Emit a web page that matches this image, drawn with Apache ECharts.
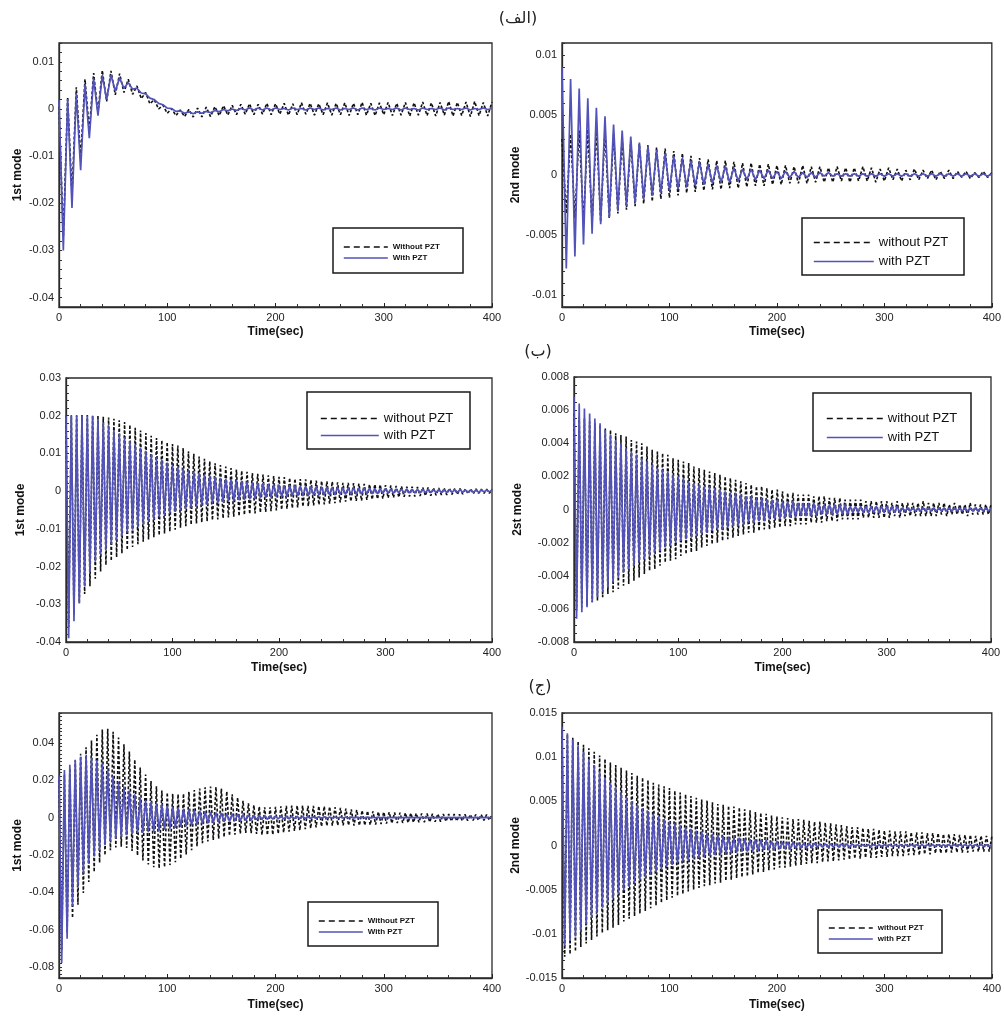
<!DOCTYPE html>
<html><head><meta charset="utf-8">
<script src="https://cdn.jsdelivr.net/npm/echarts@6/dist/echarts.min.js"></script>
<style>html,body{margin:0;padding:0;background:#fff}#c{width:1004px;height:1019px}</style>
</head><body><div id="c"></div>
<script>
// Oscillation extremes. Row (الف): maxima every 8 s (t = 0, 8 ... 400),
// minima halfway between. Rows (ب) and (ج): maxima every 5 s (t = 0, 5 ... 400), minima halfway.
const SPACING_ROW1 = 8;
const SPACING_ROW23 = 5;
const xTickValues = [0, 100, 200, 300, 400];
const panelTitles = ['(الف)', '(ب)', '(ج)'];

// ---- (الف) left : 1st mode ----
const p1L_withoutTop = [0.0005,0.0025,0.0046,0.0063,0.0076,0.0082,0.0081,0.0075,0.0063,0.0049,
0.0035,0.0020,0.0008,0.0001,-0.0002,-0.0001,0.0002,0.0004,0.0005,0.0007,
0.0008,0.0010,0.0011,0.0010,0.0012,0.0011,0.0012,0.0011,0.0013,0.0012,
0.0011,0.0013,0.0012,0.0013,0.0012,0.0014,0.0012,0.0013,0.0014,0.0012,
0.0014,0.0013,0.0015,0.0013,0.0014,0.0016,0.0014,0.0015,0.0016,0.0014,0.0015];
const p1L_withoutBot = [-0.027,-0.018,-0.0105,-0.0045,-0.0008,0.0016,0.0030,0.0035,0.0031,0.0022,
0.0011,0.0000,-0.0009,-0.0014,-0.0016,-0.0017,-0.0017,-0.0016,-0.0014,-0.0013,
-0.0012,-0.0011,-0.0012,-0.0011,-0.0012,-0.0011,-0.0013,-0.0012,-0.0011,-0.0013,
-0.0012,-0.0013,-0.0012,-0.0014,-0.0012,-0.0013,-0.0014,-0.0012,-0.0014,-0.0013,
-0.0015,-0.0013,-0.0014,-0.0015,-0.0013,-0.0015,-0.0014,-0.0016,-0.0014,-0.0015];
const p1L_withTop = [0.0019,0.0021,0.0034,0.0052,0.0065,0.0072,0.0072,0.0066,0.0056,0.0044,
0.0032,0.0020,0.0009,0.0001,-0.0004,-0.0006,-0.0006,-0.0005,-0.0003,-0.0001,
0.0000,0.0001,0.0002,0.0002,0.0002,0.0002,0.0001,0.0002,0.0001,0.0002,
0.0002,0.0001,0.0002,0.0001,0.0002,0.0002,0.0001,0.0002,0.0001,0.0002,
0.0002,0.0001,0.0002,0.0001,0.0002,0.0002,0.0001,0.0002,0.0001,0.0002,0.0001];
const p1L_withBot = [-0.0300,-0.0210,-0.0130,-0.0062,-0.0014,0.0020,0.0038,0.0044,0.0042,0.0034,
0.0023,0.0012,0.0002,-0.0005,-0.0009,-0.0010,-0.0009,-0.0008,-0.0006,-0.0004,
-0.0003,-0.0002,-0.0002,-0.0002,-0.0002,-0.0001,-0.0002,-0.0001,-0.0002,-0.0001,
-0.0002,-0.0001,-0.0002,-0.0001,-0.0002,-0.0001,-0.0002,-0.0001,-0.0001,-0.0002,
-0.0001,-0.0002,-0.0001,-0.0001,-0.0002,-0.0001,-0.0001,-0.0002,-0.0001,-0.0001];

// ---- (الف) right : 2nd mode ----
const p1R_withoutTop = [0.0030,0.0034,0.0037,0.0038,0.0038,0.0037,0.0034,0.0030,0.0028,0.0026,
0.0025,0.0023,0.0022,0.0020,0.0018,0.0016,0.0014,0.0013,0.0012,0.0012,
0.0011,0.0010,0.0010,0.0009,0.0009,0.0008,0.0008,0.0007,0.0008,0.0007,
0.0007,0.0006,0.0007,0.0006,0.0006,0.0007,0.0006,0.0005,0.0006,0.0005,
0.0004,0.0005,0.0004,0.0004,0.0003,0.0004,0.0003,0.0003,0.0002,0.0003,0.0002];
const p1R_withoutBot = [-0.0032,-0.0036,-0.0039,-0.0040,-0.0039,-0.0036,-0.0032,-0.0029,-0.0026,-0.0024,
-0.0022,-0.0020,-0.0019,-0.0017,-0.0015,-0.0014,-0.0013,-0.0012,-0.0012,-0.0011,
-0.0011,-0.0010,-0.0009,-0.0009,-0.0008,-0.0008,-0.0007,-0.0007,-0.0007,-0.0006,
-0.0006,-0.0006,-0.0005,-0.0006,-0.0005,-0.0005,-0.0006,-0.0005,-0.0004,-0.0005,
-0.0004,-0.0004,-0.0003,-0.0004,-0.0003,-0.0003,-0.0002,-0.0003,-0.0002,-0.0002];
const p1R_withTop = [0.0090,0.0080,0.0072,0.0064,0.0056,0.0049,0.0042,0.0037,0.0032,0.0027,
0.0024,0.0021,0.0018,0.0016,0.0014,0.0012,0.0011,0.0009,0.0008,0.0007,
0.0006,0.0005,0.0005,0.0004,0.0004,0.0003,0.0003,0.0003,0.0002,0.0002,
0.0002,0.0002,0.0001,0.0001,0.0001,0.0001,0.0001,0.0001,0.0001,0.0001,
0.0001,0.0001,0.0001,0.0001,0.0001,0.0001,0.0001,0.0001,0.0001,0.0001,0.0001];
const p1R_withBot = [-0.0078,-0.0068,-0.0058,-0.0049,-0.0041,-0.0035,-0.0030,-0.0026,-0.0023,-0.0020,
-0.0017,-0.0015,-0.0013,-0.0012,-0.0010,-0.0009,-0.0008,-0.0007,-0.0006,-0.0006,
-0.0005,-0.0004,-0.0004,-0.0003,-0.0003,-0.0003,-0.0002,-0.0002,-0.0002,-0.0002,
-0.0001,-0.0001,-0.0001,-0.0001,-0.0001,-0.0001,-0.0001,-0.0001,-0.0001,-0.0001,
-0.0001,-0.0001,-0.0001,-0.0001,-0.0001,-0.0001,-0.0001,-0.0001,-0.0001,-0.0001];

// ---- (ب) left : 1st mode ----
const p2L_withoutTop = [0.0200,0.0201,0.0201,0.0202,0.0202,0.0201,0.0200,0.0197,0.0195,0.0192,
0.0188,0.0183,0.0176,0.0168,0.0161,0.0154,0.0147,0.0141,0.0135,0.0130,
0.0125,0.0121,0.0114,0.0106,0.0099,0.0092,0.0086,0.0079,0.0074,0.0069,
0.0065,0.0061,0.0057,0.0054,0.0051,0.0048,0.0046,0.0044,0.0042,0.0040,
0.0038,0.0037,0.0035,0.0033,0.0032,0.0031,0.0030,0.0028,0.0027,0.0026,
0.0025,0.0023,0.0022,0.0022,0.0021,0.0020,0.0019,0.0018,0.0018,0.0017,
0.0016,0.0015,0.0014,0.0013,0.0012,0.0012,0.0011,0.0010,0.0010,0.0009,
0.0008,0.0008,0.0008,0.0007,0.0007,0.0006,0.0006,0.0006,0.0005,0.0005,0.0005];
const p2L_withoutBot = [-0.0360,-0.0328,-0.0297,-0.0273,-0.0252,-0.0232,-0.0213,-0.0196,-0.0185,-0.0175,
-0.0165,-0.0156,-0.0148,-0.0141,-0.0134,-0.0128,-0.0122,-0.0117,-0.0112,-0.0107,
-0.0102,-0.0097,-0.0093,-0.0089,-0.0086,-0.0083,-0.0080,-0.0077,-0.0075,-0.0072,
-0.0070,-0.0068,-0.0066,-0.0063,-0.0061,-0.0059,-0.0057,-0.0055,-0.0053,-0.0051,
-0.0049,-0.0047,-0.0045,-0.0043,-0.0041,-0.0040,-0.0038,-0.0036,-0.0035,-0.0033,
-0.0032,-0.0030,-0.0028,-0.0027,-0.0026,-0.0025,-0.0023,-0.0022,-0.0021,-0.0020,
-0.0018,-0.0017,-0.0016,-0.0015,-0.0014,-0.0014,-0.0013,-0.0012,-0.0012,-0.0011,
-0.0010,-0.0010,-0.0009,-0.0009,-0.0008,-0.0007,-0.0007,-0.0006,-0.0006,-0.0006];
const p2L_withTop = [0.0200,0.0200,0.0200,0.0200,0.0200,0.0199,0.0192,0.0182,0.0172,0.0162,
0.0152,0.0143,0.0133,0.0124,0.0115,0.0107,0.0098,0.0090,0.0083,0.0076,
0.0070,0.0065,0.0060,0.0055,0.0051,0.0047,0.0044,0.0041,0.0038,0.0035,
0.0033,0.0031,0.0029,0.0027,0.0025,0.0023,0.0022,0.0021,0.0019,0.0018,
0.0017,0.0016,0.0016,0.0015,0.0014,0.0013,0.0012,0.0012,0.0011,0.0011,
0.0010,0.0010,0.0009,0.0009,0.0009,0.0008,0.0008,0.0008,0.0007,0.0007,
0.0007,0.0006,0.0006,0.0006,0.0006,0.0005,0.0005,0.0005,0.0005,0.0004,
0.0004,0.0004,0.0004,0.0004,0.0004,0.0003,0.0003,0.0003,0.0003,0.0003,0.0003];
const p2L_withBot = [-0.0390,-0.0345,-0.0298,-0.0252,-0.0215,-0.0187,-0.0168,-0.0154,-0.0141,-0.0130,
-0.0119,-0.0110,-0.0102,-0.0095,-0.0088,-0.0081,-0.0075,-0.0069,-0.0064,-0.0059,
-0.0055,-0.0051,-0.0047,-0.0044,-0.0041,-0.0038,-0.0036,-0.0033,-0.0031,-0.0029,
-0.0027,-0.0026,-0.0024,-0.0023,-0.0022,-0.0020,-0.0019,-0.0018,-0.0017,-0.0016,
-0.0015,-0.0015,-0.0014,-0.0013,-0.0013,-0.0012,-0.0011,-0.0011,-0.0010,-0.0010,
-0.0010,-0.0009,-0.0009,-0.0008,-0.0008,-0.0008,-0.0007,-0.0007,-0.0007,-0.0006,
-0.0006,-0.0006,-0.0005,-0.0005,-0.0005,-0.0005,-0.0005,-0.0004,-0.0004,-0.0004,
-0.0004,-0.0004,-0.0003,-0.0003,-0.0003,-0.0003,-0.0003,-0.0003,-0.0002,-0.0002];

// ---- (ب) right : 2st mode ----
const p2R_withoutTop = [0.0058,0.0056,0.0055,0.0053,0.0052,0.0051,0.0049,0.0048,0.0046,0.0045,
0.0044,0.0042,0.0041,0.0040,0.0038,0.0036,0.0035,0.0034,0.0033,0.0031,
0.0030,0.0029,0.0028,0.0026,0.0025,0.0024,0.0023,0.0022,0.0021,0.0020,
0.0019,0.0018,0.0017,0.0016,0.0015,0.0014,0.0014,0.0013,0.0012,0.0012,
0.0011,0.0010,0.0010,0.0009,0.0009,0.0009,0.0008,0.0008,0.0008,0.0007,
0.0007,0.0007,0.0006,0.0006,0.0006,0.0006,0.0005,0.0005,0.0005,0.0005,
0.0005,0.0004,0.0005,0.0004,0.0004,0.0004,0.0004,0.0005,0.0004,0.0004,
0.0004,0.0004,0.0003,0.0004,0.0003,0.0003,0.0004,0.0003,0.0003,0.0003,0.0003];
const p2R_withoutBot = [-0.0061,-0.0059,-0.0058,-0.0056,-0.0055,-0.0053,-0.0051,-0.0050,-0.0048,-0.0046,
-0.0045,-0.0043,-0.0041,-0.0039,-0.0037,-0.0036,-0.0034,-0.0032,-0.0031,-0.0030,
-0.0028,-0.0027,-0.0026,-0.0025,-0.0023,-0.0022,-0.0021,-0.0020,-0.0019,-0.0018,
-0.0017,-0.0016,-0.0015,-0.0014,-0.0014,-0.0013,-0.0012,-0.0012,-0.0011,-0.0011,
-0.0010,-0.0010,-0.0009,-0.0009,-0.0009,-0.0008,-0.0008,-0.0008,-0.0007,-0.0007,
-0.0007,-0.0006,-0.0006,-0.0006,-0.0006,-0.0005,-0.0005,-0.0005,-0.0005,-0.0005,
-0.0005,-0.0004,-0.0005,-0.0004,-0.0004,-0.0004,-0.0004,-0.0004,-0.0004,-0.0004,
-0.0003,-0.0004,-0.0003,-0.0003,-0.0003,-0.0004,-0.0003,-0.0003,-0.0003,-0.0003];
const p2R_withTop = [0.0068,0.0064,0.0061,0.0058,0.0055,0.0052,0.0048,0.0045,0.0042,0.0040,
0.0037,0.0035,0.0033,0.0031,0.0029,0.0027,0.0025,0.0024,0.0023,0.0021,
0.0020,0.0019,0.0017,0.0016,0.0015,0.0014,0.0014,0.0013,0.0012,0.0011,
0.0010,0.0010,0.0009,0.0008,0.0008,0.0007,0.0007,0.0006,0.0006,0.0006,
0.0005,0.0005,0.0005,0.0004,0.0004,0.0004,0.0004,0.0003,0.0003,0.0003,
0.0003,0.0003,0.0003,0.0002,0.0002,0.0002,0.0002,0.0002,0.0002,0.0002,
0.0002,0.0002,0.0002,0.0001,0.0001,0.0001,0.0001,0.0001,0.0001,0.0001,
0.0001,0.0001,0.0001,0.0001,0.0001,0.0001,0.0001,0.0001,0.0001,0.0001,0.0001];
const p2R_withBot = [-0.0066,-0.0062,-0.0059,-0.0056,-0.0053,-0.0050,-0.0047,-0.0044,-0.0041,-0.0038,
-0.0036,-0.0034,-0.0032,-0.0030,-0.0028,-0.0026,-0.0025,-0.0023,-0.0022,-0.0020,
-0.0019,-0.0018,-0.0017,-0.0016,-0.0015,-0.0014,-0.0013,-0.0012,-0.0012,-0.0011,
-0.0010,-0.0010,-0.0009,-0.0008,-0.0008,-0.0007,-0.0007,-0.0006,-0.0006,-0.0006,
-0.0005,-0.0005,-0.0005,-0.0004,-0.0004,-0.0004,-0.0004,-0.0003,-0.0003,-0.0003,
-0.0003,-0.0003,-0.0003,-0.0002,-0.0002,-0.0002,-0.0002,-0.0002,-0.0002,-0.0002,
-0.0002,-0.0002,-0.0002,-0.0001,-0.0001,-0.0001,-0.0001,-0.0001,-0.0001,-0.0001,
-0.0001,-0.0001,-0.0001,-0.0001,-0.0001,-0.0001,-0.0001,-0.0001,-0.0001,-0.0001];

// ---- (ج) left : 1st mode ----
const p3L_withoutTop = [0.0200,0.0230,0.0265,0.0305,0.0342,0.0376,0.0412,0.0444,0.0472,0.0476,
0.0460,0.0428,0.0392,0.0354,0.0310,0.0268,0.0230,0.0196,0.0167,0.0145,
0.0134,0.0127,0.0125,0.0128,0.0138,0.0147,0.0155,0.0162,0.0166,0.0164,
0.0155,0.0140,0.0125,0.0107,0.0090,0.0076,0.0066,0.0059,0.0055,0.0055,
0.0057,0.0060,0.0062,0.0064,0.0064,0.0064,0.0063,0.0062,0.0061,0.0060,
0.0058,0.0055,0.0052,0.0048,0.0044,0.0041,0.0038,0.0035,0.0033,0.0031,
0.0030,0.0029,0.0027,0.0026,0.0025,0.0024,0.0023,0.0022,0.0021,0.0020,
0.0019,0.0019,0.0018,0.0018,0.0017,0.0017,0.0016,0.0016,0.0016,0.0015,0.0015];
const p3L_withoutBot = [-0.0710,-0.0620,-0.0538,-0.0468,-0.0405,-0.0345,-0.0292,-0.0242,-0.0202,-0.0176,
-0.0160,-0.0156,-0.0163,-0.0179,-0.0204,-0.0230,-0.0252,-0.0267,-0.0272,-0.0266,
-0.0255,-0.0240,-0.0221,-0.0198,-0.0175,-0.0155,-0.0138,-0.0129,-0.0121,-0.0113,
-0.0105,-0.0098,-0.0092,-0.0087,-0.0083,-0.0084,-0.0088,-0.0093,-0.0094,-0.0092,
-0.0087,-0.0081,-0.0076,-0.0072,-0.0068,-0.0063,-0.0058,-0.0053,-0.0048,-0.0045,
-0.0043,-0.0042,-0.0042,-0.0042,-0.0043,-0.0043,-0.0042,-0.0040,-0.0038,-0.0035,
-0.0033,-0.0031,-0.0030,-0.0029,-0.0028,-0.0027,-0.0026,-0.0025,-0.0024,-0.0023,
-0.0022,-0.0021,-0.0020,-0.0019,-0.0018,-0.0017,-0.0016,-0.0015,-0.0015,-0.0014];
const p3L_withTop = [0.0225,0.0255,0.0283,0.0310,0.0325,0.0330,0.0322,0.0308,0.0290,0.0258,
0.0222,0.0191,0.0165,0.0144,0.0124,0.0107,0.0094,0.0084,0.0076,0.0070,
0.0064,0.0058,0.0053,0.0048,0.0044,0.0040,0.0036,0.0033,0.0030,0.0027,
0.0024,0.0022,0.0020,0.0018,0.0016,0.0014,0.0013,0.0012,0.0011,0.0009,
0.0008,0.0008,0.0007,0.0006,0.0006,0.0005,0.0005,0.0004,0.0004,0.0004,
0.0003,0.0003,0.0003,0.0003,0.0002,0.0002,0.0002,0.0002,0.0002,0.0002,
0.0002,0.0001,0.0001,0.0001,0.0001,0.0001,0.0001,0.0001,0.0001,0.0001,
0.0001,0.0001,0.0001,0.0001,0.0001,0.0001,0.0001,0.0001,0.0001,0.0001,0.0001];
const p3L_withBot = [-0.0780,-0.0650,-0.0475,-0.0370,-0.0300,-0.0248,-0.0208,-0.0176,-0.0148,-0.0128,
-0.0114,-0.0103,-0.0095,-0.0088,-0.0084,-0.0081,-0.0079,-0.0076,-0.0071,-0.0065,
-0.0060,-0.0055,-0.0050,-0.0046,-0.0042,-0.0038,-0.0034,-0.0031,-0.0028,-0.0025,
-0.0023,-0.0021,-0.0019,-0.0017,-0.0016,-0.0014,-0.0013,-0.0011,-0.0010,-0.0009,
-0.0008,-0.0008,-0.0007,-0.0006,-0.0006,-0.0005,-0.0005,-0.0004,-0.0004,-0.0004,
-0.0003,-0.0003,-0.0003,-0.0003,-0.0002,-0.0002,-0.0002,-0.0002,-0.0002,-0.0002,
-0.0002,-0.0001,-0.0001,-0.0001,-0.0001,-0.0001,-0.0001,-0.0001,-0.0001,-0.0001,
-0.0001,-0.0001,-0.0001,-0.0001,-0.0001,-0.0001,-0.0001,-0.0001,-0.0001,-0.0001];

// ---- (ج) right : 2nd mode ----
const p3R_withoutTop = [0.0130,0.0126,0.0122,0.0118,0.0114,0.0110,0.0106,0.0102,0.0098,0.0094,
0.0091,0.0088,0.0085,0.0082,0.0079,0.0077,0.0074,0.0071,0.0069,0.0067,
0.0065,0.0062,0.0060,0.0058,0.0056,0.0054,0.0052,0.0051,0.0049,0.0047,
0.0046,0.0045,0.0044,0.0043,0.0041,0.0040,0.0038,0.0037,0.0036,0.0034,
0.0033,0.0032,0.0031,0.0030,0.0030,0.0029,0.0028,0.0027,0.0027,0.0026,
0.0025,0.0024,0.0023,0.0022,0.0021,0.0021,0.0020,0.0019,0.0019,0.0018,
0.0017,0.0017,0.0016,0.0016,0.0016,0.0015,0.0015,0.0015,0.0014,0.0014,
0.0014,0.0013,0.0013,0.0013,0.0012,0.0012,0.0012,0.0011,0.0011,0.0011,0.0010];
const p3R_withoutBot = [-0.0126,-0.0123,-0.0120,-0.0115,-0.0111,-0.0107,-0.0103,-0.0099,-0.0096,-0.0093,
-0.0090,-0.0086,-0.0083,-0.0080,-0.0077,-0.0074,-0.0071,-0.0068,-0.0065,-0.0062,
-0.0059,-0.0057,-0.0055,-0.0052,-0.0050,-0.0048,-0.0046,-0.0045,-0.0043,-0.0042,
-0.0040,-0.0039,-0.0037,-0.0036,-0.0035,-0.0033,-0.0031,-0.0030,-0.0028,-0.0027,
-0.0025,-0.0025,-0.0024,-0.0023,-0.0022,-0.0021,-0.0020,-0.0020,-0.0019,-0.0018,
-0.0018,-0.0017,-0.0016,-0.0016,-0.0015,-0.0015,-0.0014,-0.0014,-0.0014,-0.0013,
-0.0013,-0.0012,-0.0012,-0.0012,-0.0011,-0.0011,-0.0011,-0.0010,-0.0010,-0.0009,
-0.0009,-0.0009,-0.0008,-0.0008,-0.0008,-0.0008,-0.0007,-0.0007,-0.0007,-0.0007];
const p3R_withTop = [0.0134,0.0127,0.0120,0.0113,0.0106,0.0098,0.0091,0.0084,0.0077,0.0071,
0.0065,0.0060,0.0055,0.0050,0.0046,0.0042,0.0039,0.0036,0.0033,0.0030,
0.0027,0.0025,0.0023,0.0021,0.0019,0.0017,0.0016,0.0014,0.0013,0.0012,
0.0011,0.0010,0.0009,0.0009,0.0008,0.0007,0.0007,0.0006,0.0006,0.0005,
0.0005,0.0004,0.0004,0.0004,0.0003,0.0003,0.0003,0.0003,0.0002,0.0002,
0.0002,0.0002,0.0002,0.0002,0.0002,0.0001,0.0001,0.0001,0.0001,0.0001,
0.0001,0.0001,0.0001,0.0001,0.0001,0.0001,0.0001,0.0001,0.0001,0.0001,
0.0001,0.0001,0.0001,0.0001,0.0001,0.0001,0.0001,0.0001,0.0001,0.0001,0.0001];
const p3R_withBot = [-0.0114,-0.0108,-0.0103,-0.0096,-0.0089,-0.0082,-0.0076,-0.0070,-0.0065,-0.0060,
-0.0055,-0.0051,-0.0047,-0.0043,-0.0039,-0.0036,-0.0033,-0.0030,-0.0027,-0.0024,
-0.0022,-0.0020,-0.0018,-0.0017,-0.0015,-0.0014,-0.0013,-0.0012,-0.0011,-0.0010,
-0.0009,-0.0009,-0.0008,-0.0007,-0.0007,-0.0006,-0.0006,-0.0005,-0.0005,-0.0005,
-0.0004,-0.0004,-0.0004,-0.0003,-0.0003,-0.0003,-0.0003,-0.0002,-0.0002,-0.0002,
-0.0002,-0.0002,-0.0002,-0.0002,-0.0001,-0.0001,-0.0001,-0.0001,-0.0001,-0.0001,
-0.0001,-0.0001,-0.0001,-0.0001,-0.0001,-0.0001,-0.0001,-0.0001,-0.0001,-0.0001,
-0.0001,-0.0001,-0.0001,-0.0001,-0.0001,-0.0001,-0.0001,-0.0001,-0.0001,-0.0001];

function zigzag(tops, bots, spacing) {
  const d = [];
  for (let i = 0; i < tops.length; i++) {
    d.push([i * spacing, tops[i]]);
    if (i < bots.length) d.push([i * spacing + spacing / 2, bots[i]]);
  }
  return d;
}

const FONT = 'Liberation Sans, Arial, sans-serif';
const BLUE = '#5252b8';
const BLACK = '#111111';

const panels = [
  { grid:{left:59,top:43,width:433,height:264}, yMin:-0.042, yMax:0.014, yInt:0.002, yLab:0.01, yName:'1st mode', yGap:35, xGap:19, sp:SPACING_ROW1,
    names:['Without PZT','With PZT'], data:[[p1L_withoutTop,p1L_withoutBot],[p1L_withTop,p1L_withBot]],
    leg:{left:343,top:243,iw:44,ih:8,gap:3,fs:8,bold:true}, box:[333,228,130,45] },
  { grid:{left:562,top:43,width:431,height:264}, yMin:-0.011, yMax:0.011, yInt:0.001, yLab:0.005, yName:'2nd mode', yGap:34, xGap:19, sp:SPACING_ROW1,
    names:['without PZT','with PZT'], data:[[p1R_withoutTop,p1R_withoutBot],[p1R_withTop,p1R_withBot]],
    leg:{left:813,top:236,iw:60,ih:10,gap:6,fs:13,bold:false}, box:[802,218,162,57] },
  { grid:{left:66,top:378,width:426,height:264}, yMin:-0.04, yMax:0.03, yInt:0.002, yLab:0.01, yName:'1st mode', yGap:39, xGap:20, sp:SPACING_ROW23,
    names:['without PZT','with PZT'], data:[[p2L_withoutTop,p2L_withoutBot],[p2L_withTop,p2L_withBot]],
    leg:{left:320,top:412,iw:58,ih:10,gap:4,fs:13,bold:false}, box:[307,392,163,57] },
  { grid:{left:574,top:377,width:417,height:265}, yMin:-0.008, yMax:0.008, yInt:0.0005, yLab:0.002, yName:'2st mode', yGap:50, xGap:20, sp:SPACING_ROW23,
    names:['without PZT','with PZT'], data:[[p2R_withoutTop,p2R_withoutBot],[p2R_withTop,p2R_withBot]],
    leg:{left:826,top:412,iw:56,ih:10,gap:6,fs:13,bold:false}, box:[813,393,158,58] },
  { grid:{left:59,top:713,width:433,height:265}, yMin:-0.086, yMax:0.056, yInt:0.002, yLab:0.02, yName:'1st mode', yGap:35, xGap:21, sp:SPACING_ROW23,
    names:['Without PZT','With PZT'], data:[[p3L_withoutTop,p3L_withoutBot],[p3L_withTop,p3L_withBot]],
    leg:{left:318,top:917,iw:44,ih:8,gap:3,fs:8,bold:true}, box:[308,902,130,44] },
  { grid:{left:562,top:713,width:430,height:265}, yMin:-0.015, yMax:0.015, yInt:0.001, yLab:0.005, yName:'2nd mode', yGap:36, xGap:21, sp:SPACING_ROW23,
    names:['without PZT','with PZT'], data:[[p3R_withoutTop,p3R_withoutBot],[p3R_withTop,p3R_withBot]],
    leg:{left:828,top:924,iw:44,ih:8,gap:3,fs:8,bold:true}, box:[818,910,124,43] }
];

const grids = [], xAxes = [], yAxes = [], series = [], legends = [], graphics = [];
panels.forEach((p, k) => {
  grids.push(Object.assign({show:true, borderColor:'#2a2a2a', borderWidth:1.3, backgroundColor:'#fff'}, p.grid));
  xAxes.push({
    gridIndex:k, type:'value', min:0, max:400, interval:100,
    name:'Time(sec)', nameLocation:'middle', nameGap:p.xGap,
    nameTextStyle:{fontFamily:FONT, fontSize:12, fontWeight:'bold', color:'#111'},
    axisLine:{show:true, onZero:false, lineStyle:{color:'#2a2a2a', width:1.3}},
    axisTick:{inside:true, length:4, lineStyle:{color:'#222'}},
    minorTick:{show:true, splitNumber:5, length:3, lineStyle:{color:'#333'}},
    splitLine:{show:false},
    axisLabel:{fontFamily:FONT, fontSize:11, color:'#222', margin:5,
      formatter: v => (xTickValues.indexOf(Math.round(v)) >= 0 ? String(Math.round(v)) : '')}
  });
  const lab = p.yLab;
  yAxes.push({
    gridIndex:k, type:'value', min:p.yMin, max:p.yMax, interval:p.yInt,
    name:p.yName, nameLocation:'middle', nameRotate:90, nameGap:p.yGap,
    nameTextStyle:{fontFamily:FONT, fontSize:12, fontWeight:'bold', color:'#111'},
    axisLine:{show:true, onZero:false, lineStyle:{color:'#2a2a2a', width:1.3}},
    axisTick:{inside:true, length:3, lineStyle:{color:'#333'}},
    splitLine:{show:false},
    axisLabel:{fontFamily:FONT, fontSize:11, color:'#222', margin:5,
      formatter: v => { const q = v / lab; if (Math.abs(q - Math.round(q)) > 1e-6) return ''; const r = Math.round(Math.round(q) * lab * 1e6) / 1e6; return String(r); }}
  });
  // without PZT (black dashed) underneath, with PZT (blue) drawn over it
  series.push({
    name:p.names[0], type:'line', xAxisIndex:k, yAxisIndex:k, symbol:'none', animation:false,
    data: zigzag(p.data[0][0], p.data[0][1], p.sp),
    lineStyle:{color:BLACK, width:1.6, type:[3,2]}, itemStyle:{color:BLACK}, z:2
  });
  series.push({
    name:p.names[1], type:'line', xAxisIndex:k, yAxisIndex:k, symbol:'none', animation:false,
    data: zigzag(p.data[1][0], p.data[1][1], p.sp),
    lineStyle:{color:BLUE, width:1.7}, itemStyle:{color:BLUE}, z:3
  });
  legends.push({
    data:[
      {name:p.names[0], lineStyle:{type:[6,4], width:1.6, color:BLACK}},
      {name:p.names[1], lineStyle:{type:'solid', width:1.6, color:BLUE}}
    ],
    orient:'vertical', left:p.leg.left, top:p.leg.top, padding:0,
    itemWidth:p.leg.iw, itemHeight:p.leg.ih, itemGap:p.leg.gap, selectedMode:false, z:6,
    itemStyle:{opacity:0, borderWidth:0},
    textStyle:{fontFamily:FONT, fontSize:p.leg.fs, fontWeight:p.leg.bold ? 'bold' : 'normal', color:'#111'}
  });
  graphics.push({type:'rect', z:5, shape:{x:p.box[0], y:p.box[1], width:p.box[2], height:p.box[3]},
    style:{fill:'#fff', stroke:'#1a1a1a', lineWidth:1.5}});
});

const titlePos = [[518, 19], [538, 352], [540, 687]];
panelTitles.forEach((t, i) => {
  graphics.push({type:'text', z:7, x:titlePos[i][0], y:titlePos[i][1],
    style:{text:t, font:'16px "DejaVu Sans", "Noto Sans", sans-serif', fill:'#222', textAlign:'center', textVerticalAlign:'middle'}});
});

const chart = echarts.init(document.getElementById('c'), null, {renderer:'canvas'});
chart.setOption({
  animation:false, backgroundColor:'#fff',
  grid:grids, xAxis:xAxes, yAxis:yAxes, series:series, legend:legends, graphic:graphics
});
</script></body></html>
